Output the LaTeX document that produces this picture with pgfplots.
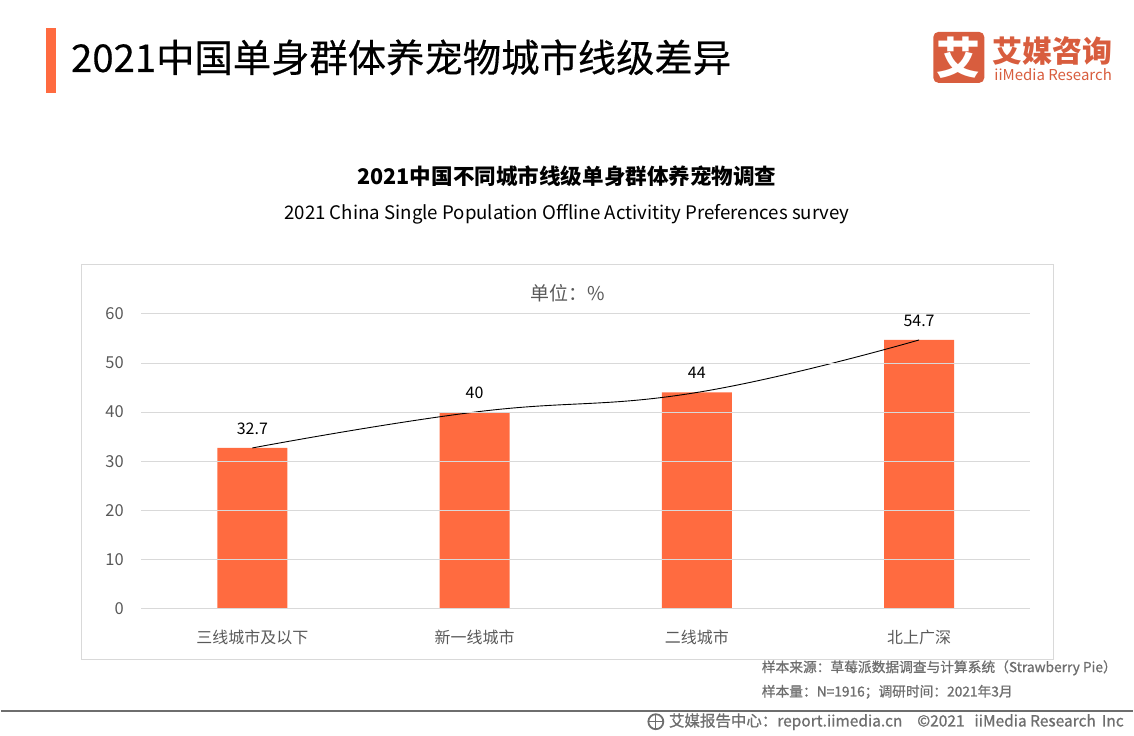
\documentclass[border=0pt]{standalone}
\usepackage{pgfplots}
\pgfplotsset{compat=1.18}
\usepackage{fontspec}
\setmainfont{Noto Sans CJK SC}
\usetikzlibrary{calc}
\definecolor{barc}{HTML}{FF6B40}
\definecolor{logoc}{HTML}{D85D3E}
\definecolor{gridc}{HTML}{D9D9D9}
\definecolor{tickc}{HTML}{595959}
\definecolor{footc}{HTML}{6E6E6E}
\newcommand{\fs}[1]{\fontsize{#1}{#1}\selectfont}
\begin{document}
\begin{tikzpicture}[x=1pt,y=1pt]
\path (0,0) rectangle (1134,737);
% title block
\fill[barc] (45,644) rectangle (55,709);
\node[anchor=west,inner sep=0pt,text=black] at (70,679.5) {\fs{38.4}\addfontfeature{FakeBold=0.35}2021中国单身群体养宠物城市线级差异};
% logo
\fill[logoc,rounded corners=5pt] (934,654) rectangle (985,705);
\node[text=white,inner sep=0pt] at (959.5,679) {\fs{44}\bfseries 艾};
\node[anchor=west,inner sep=0pt,text=logoc] at (993,686) {\fs{30}\bfseries 艾媒咨询};
\node[anchor=west,inner sep=0pt,text=logoc] at (995,662) {\fs{15}iiMedia Research};
% headings
\node[inner sep=0pt,text=black] at (567,560.5) {\fs{21.6}\bfseries 2021中国不同城市线级单身群体养宠物调查};
\node[inner sep=0pt,text=black] at (567,522.5) {\fs{18.7}2021 China Single Population Offline Activitity Preferences survey};
% chart frame
\draw[gridc,line width=1pt] (81,76.5) rectangle (1054,472.5);
\begin{axis}[
  at={(140.5pt,127.5pt)},anchor=south west,
  scale only axis,width=890.5pt,height=295pt,
  xmin=-0.5,xmax=3.5,ymin=0,ymax=60,
  axis lines=left,
  axis x line*=bottom,
  axis y line=none,
  axis line style={gridc,line width=1pt,-},
  xtick={0,1,2,3},
  xticklabels={三线城市及以下,新一线城市,二线城市,北上广深},
  tick style={draw=none},
  x tick label style={text=tickc,font=\fs{16},yshift=-16pt},
  clip=false,
]
\addplot[ybar,bar width=70pt,fill=barc,draw=none,bar shift=0pt] coordinates {(0,32.7)(1,40)(2,44)(3,54.7)};
\addplot[black,line width=0.9pt,smooth,tension=0.75,no marks] coordinates {(0,32.7)(1,40)(2,44)(3,54.7)};
\end{axis}
\begin{axis}[
  at={(140.5pt,127.5pt)},anchor=south west,
  scale only axis,width=890.5pt,height=295pt,
  xmin=-0.5,xmax=3.5,ymin=0,ymax=60,
  axis x line=none,axis y line*=left,
  axis line style={draw=none},
  ytick={0,10,20,30,40,50,60},
  ymajorgrids,grid style={gridc,line width=1pt},
  tick style={draw=none},
  y tick label style={text=tickc,font=\fs{16.5}},
  /pgf/number format/assume math mode=true,
  yticklabel style={xshift=-14pt},
  clip=false,
  nodes near coords,
  point meta=explicit symbolic,
  every node near coord/.style={text=black,font=\fs{16},yshift=10pt},
]
\addplot[draw=none,no marks] table[meta=m] {
x y m
0 32.7 32.7
1 40 40
2 44 44
3 54.7 54.7
};
\end{axis}
\node[inner sep=0pt,text=tickc] at (567.5,443) {\fs{19}单位：\%};
% source
\node[anchor=west,inner sep=0pt,text=footc] at (762,68) {\fs{13.75}\addfontfeature{FakeBold=1}样本来源：草莓派数据调查与计算系统（Strawberry Pie）};
\node[anchor=west,inner sep=0pt,text=footc] at (762,44) {\fs{13.75}\addfontfeature{FakeBold=1}样本量：N=1916；调研时间：2021年3月};
\draw[footc,line width=2pt] (0,25) -- (1134,25);
\draw[footc,line width=1.8pt] (656,14) circle (7.5);
\draw[footc,line width=1pt] (648.5,14) -- (663.5,14) (656,6.5) -- (656,21.5);
\node[anchor=west,inner sep=0pt,text=footc] at (669,14) {\fs{15.5}\addfontfeature{FakeBold=1}艾媒报告中心：report.iimedia.cn\hspace{15pt}©2021\hspace{10pt}iiMedia Research\hspace{6pt}Inc};
\end{tikzpicture}
\end{document}
